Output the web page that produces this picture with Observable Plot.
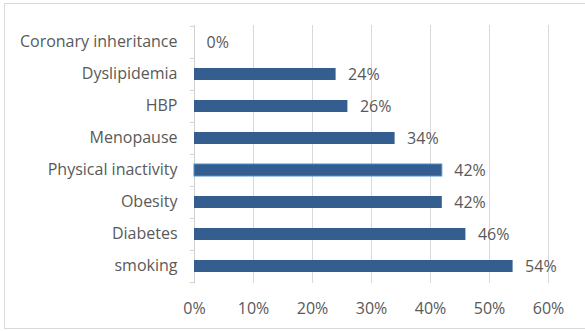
<!DOCTYPE html>
<html>
<head>
<meta charset="utf-8">
<script src="https://cdn.jsdelivr.net/npm/d3@7"></script>
<script src="https://cdn.jsdelivr.net/npm/@observablehq/plot@0.6"></script>
<style>
  html, body { margin: 0; padding: 0; background: #fff; }
  #wrap { position: relative; width: 585px; height: 331px; overflow: hidden; }
  #border { position: absolute; left: 4px; top: 3px; width: 600px; height: 326px; border: 1px solid #d9d9d9; box-sizing: border-box; }
  #chart { position: absolute; left: 0; top: 0; }
</style>
</head>
<body>
<div id="wrap"><div id="border"></div><div id="chart"></div></div>
<script>
const categories = ["Coronary inheritance", "Dyslipidemia", "HBP", "Menopause", "Physical inactivity", "Obesity", "Diabetes", "smoking"];
const values = [0, 24, 26, 34, 42, 42, 46, 54];
const xTicks = [0, 10, 20, 30, 40, 50, 60];

const data = categories.map((c, i) => ({category: c, value: values[i]}));

const step = (331 - 25 - 48) / categories.length;

const chart = Plot.plot({
  width: 585,
  height: 331,
  marginLeft: 194,
  marginRight: 37,
  marginTop: 25,
  marginBottom: 48,
  style: {fontFamily: "'Open Sans', sans-serif", fontSize: "16px", color: "#595959", background: "transparent"},
  x: {domain: [0, 60], ticks: xTicks, tickFormat: d => d + "%", tickSize: 0, label: null},
  y: {domain: categories, paddingInner: 0.63, paddingOuter: 0.315, tickSize: 0, label: null},
  marks: [
    Plot.ruleX(xTicks.filter(d => d > 0), {stroke: "#d9d9d9", strokeOpacity: 1}),
    Plot.ruleX([0], {stroke: "#d0d0d0", strokeOpacity: 1}),
    Plot.ruleY(categories, {y: d => d, dy: -step / 2, x1: -0.7, x2: 0, stroke: "#d0d0d0", clip: false}),
    Plot.ruleY(categories.slice(-1), {y: d => d, dy: step / 2, x1: -0.7, x2: 0, stroke: "#d0d0d0", clip: false}),
    Plot.barX(data, {y: "category", x: "value", fill: "#335e8f"}),
    Plot.barX(data.filter(d => d.category === "Physical inactivity"), {y: "category", x: "value", fill: "none", stroke: "#4a90d0", strokeWidth: 1}),
    Plot.text(data, {y: "category", x: "value", text: d => d.value + "%", textAnchor: "start", dx: 12, fill: "#595959", fontSize: 16}),
    Plot.axisX({ticks: xTicks, tickFormat: d => d + "%", tickSize: 0, tickPadding: 19, fill: "#595959", fontSize: 16}),
    Plot.axisY({tickSize: 0, tickPadding: 17, fill: "#595959", fontSize: 16, dy: -1})
  ]
});
document.getElementById("chart").appendChild(chart);
</script>
</body>
</html>
